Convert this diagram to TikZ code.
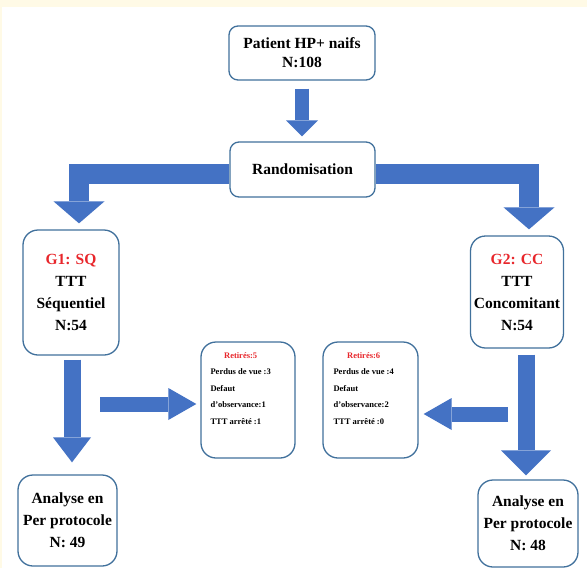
\documentclass[tikz,border=0pt]{standalone}
\usepackage{fontspec}
\setmainfont{Liberation Serif}
\usepackage{tikz}
\usetikzlibrary{arrows.meta}
\usepackage{xcolor}
\definecolor{boxline}{HTML}{41719C}
\definecolor{arrowblue}{HTML}{4472C4}
\definecolor{titlered}{HTML}{E8262B}
\definecolor{cream}{HTML}{FFFAE6}

\begin{document}
\begin{tikzpicture}[x=1pt,y=-1pt,
  box/.style={draw=boxline, line width=1.3pt, fill=white, rounded corners=9pt,
    align=center, inner sep=0pt, font=\bfseries\fontsize{15.5}{19}\selectfont},
  groupbox/.style={box, rounded corners=15pt, font=\bfseries\fontsize{15.5}{22}\selectfont},
  anabox/.style={box, rounded corners=15pt, font=\bfseries\fontsize{15.5}{22}\selectfont},
  retbox/.style={box, rounded corners=15pt},
  rettext/.style={inner sep=0pt, anchor=north west, font=\bfseries\fontsize{8.5}{16.5}\selectfont},
  toparrow/.style={draw=arrowblue, line width=14pt, -{Triangle[width=32pt,length=16pt,line width=0pt]}},
  fat/.style={draw=arrowblue, line width=20pt, line join=miter, -{Triangle[width=51pt,length=22pt,line width=0pt]}},
  downarrow/.style={draw=arrowblue, line width=17pt, -{Triangle[width=#1,length=25pt,line width=0pt]}},
  sidearrow/.style={draw=arrowblue, line width=15pt, -{Triangle[width=32pt,length=28pt,line width=0pt]}}]

  \useasboundingbox (0,0) rectangle (587,568);
  \fill[cream] (0,0) rectangle (587,568);
  \fill[white] (2,7) rectangle (587,568);

  % boxes
  \node[box, minimum width=146pt, minimum height=54pt] (pat) at (302,53) {Patient HP+ naifs\\N:108};
  \node[box, minimum width=145pt, minimum height=55pt] (rand) at (302.5,169.5) {Randomisation};
  \node[groupbox, minimum width=96pt, minimum height=125pt] (g1) at (71,292.5)
    {\textcolor{titlered}{G1: SQ}\\TTT\\Séquentiel\\N:54};
  \node[groupbox, minimum width=93pt, minimum height=112pt] (g2) at (517,292)
    {\textcolor{titlered}{G2: CC}\\TTT\\Concomitant\\N:54};
  \node[retbox, minimum width=94pt, minimum height=116pt] (ret1) at (248,400) {};
  \node[retbox, minimum width=95pt, minimum height=116pt] (ret2) at (370.5,400) {};
  \node[rettext] (ret1txt) at ([xshift=10pt,yshift=-5pt]ret1.north west)
    {\begin{tabular}{@{}l@{}}\multicolumn{1}{@{}c@{}}{\textcolor{titlered}{Retirés:5}}\\
     Perdus de vue :3\\Defaut\\d'observance:1\\TTT arrêté :1\end{tabular}};
  \node[rettext] (ret2txt) at ([xshift=11pt,yshift=-5pt]ret2.north west)
    {\begin{tabular}{@{}l@{}}\multicolumn{1}{@{}c@{}}{\textcolor{titlered}{Retirés:6}}\\
     Perdus de vue :4\\Defaut\\d'observance:2\\TTT arrêté :0\end{tabular}};
  \node[anabox, minimum width=99pt, minimum height=91pt] (ana1) at (67.5,520.5)
    {Analyse en\\Per protocole\\N: 49};
  \node[anabox, minimum width=100pt, minimum height=87pt] (ana2) at (528,523.5)
    {Analyse en\\Per protocole\\N: 48};

  % arrows
  \coordinate (side1) at (100,404);
  \coordinate (side2) at (508,414);
  \draw[toparrow, shorten <=8pt, shorten >=5pt] (pat.south) -- (pat.south |- rand.north);
  \draw[fat, shorten >=6pt] ([yshift=-4pt]rand.west) -| ([xshift=8pt]g1.north);
  \draw[fat, shorten >=6pt] ([yshift=-4pt]rand.east) -| ([xshift=12pt]g2.north);
  \draw[downarrow=38pt, shorten <=4pt, shorten >=12pt] ([xshift=1pt]g1.south) -- ([xshift=1pt]g1.south |- ana1.north);
  \draw[downarrow=50pt, shorten <=6pt, shorten >=4pt] ([xshift=9pt]g2.south) -- ([xshift=9pt]g2.south |- ana2.north);
  \draw[sidearrow, shorten >=4pt] (side1) -- (side1 -| ret1.west);
  \draw[sidearrow, shorten >=5pt] (side2) -- (side2 -| ret2.east);
\end{tikzpicture}
\end{document}
